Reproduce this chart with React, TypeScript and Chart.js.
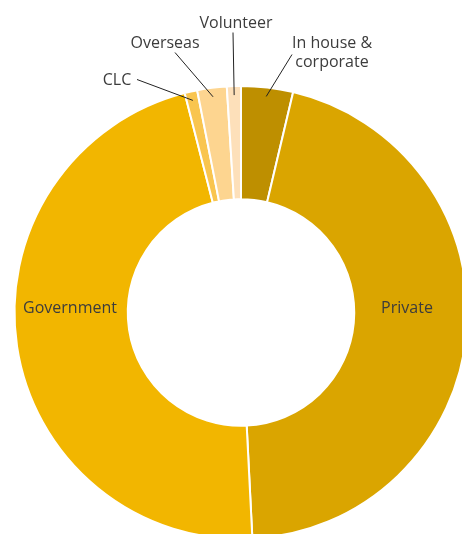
import React, { useEffect, useRef } from "react";
import { Chart, registerables } from "chart.js";

Chart.register(...registerables);

const categories = ["In house & corporate", "Private", "Government", "CLC", "Overseas", "Volunteer"];
const shares = [3.7, 45.5, 46.8, 0.9, 2.1, 1.0];
const colors = ["#BE8F00", "#DAA500", "#F2B600", "#F9C54F", "#FDD590", "#FDE0BA"];
// label text lines
const labelLines = [["In house &", "corporate"], ["Private"], ["Government"], ["CLC"], ["Overseas"], ["Volunteer"]];
// label placement: "inside" or "outside" with text anchor offsets from chart centre
const labelModes = ["outside", "inside", "inside", "outside", "outside", "outside"];
const labelOffsets: [number, number][] = [
  [91, -260],
  [166, -4],
  [-171, -4],
  [-124, -232],
  [-76, -269],
  [-5, -289],
];
const lineEnds: [number, number][] = [
  [51, -258],
  [0, 0],
  [0, 0],
  [-104, -233],
  [-66, -260],
  [-8, -280],
];

const labelPlugin = {
  id: "doughnutLabels",
  afterDatasetsDraw(chart: any) {
    const ctx = chart.ctx;
    const meta = chart.getDatasetMeta(0);
    ctx.save();
    ctx.font = "16px 'Open Sans', sans-serif";
    ctx.fillStyle = "#3c3c3c";
    ctx.strokeStyle = "#222222";
    ctx.lineWidth = 1;
    ctx.textAlign = "center";
    ctx.textBaseline = "middle";
    meta.data.forEach((arc: any, i: number) => {
      const { x, y, startAngle, endAngle, outerRadius } = arc.getProps(
        ["x", "y", "startAngle", "endAngle", "outerRadius"],
        true
      );
      const mid = (startAngle + endAngle) / 2;
      const [ox, oy] = labelOffsets[i];
      if (labelModes[i] === "outside") {
        const r = outerRadius - 9;
        const sx = x + Math.cos(mid) * r;
        const sy = y + Math.sin(mid) * r;
        const [ex, ey] = lineEnds[i];
        ctx.beginPath();
        ctx.moveTo(sx, sy);
        ctx.lineTo(x + ex, y + ey);
        ctx.stroke();
      }
      const lines = labelLines[i];
      const lh = 19;
      lines.forEach((t, k) => {
        ctx.fillText(t, x + ox, y + oy + (k - (lines.length - 1) / 2) * lh);
      });
    });
    ctx.restore();
  },
};

export default function App() {
  const ref = useRef<HTMLCanvasElement>(null);
  useEffect(() => {
    if (!ref.current) return;
    const chart = new Chart(ref.current, {
      type: "doughnut",
      data: {
        labels: categories,
        datasets: [
          {
            data: shares,
            backgroundColor: colors,
            borderColor: "#ffffff",
            borderWidth: 2,
          },
        ],
      },
      options: {
        responsive: false,
        animation: false,
        devicePixelRatio: 1,
        cutout: "50%",
        layout: { padding: { left: 13, top: 85, right: 13, bottom: 20 } },
        plugins: {
          legend: { display: false },
          tooltip: { enabled: false },
        },
      },
      plugins: [labelPlugin],
    } as any);
    return () => chart.destroy();
  }, []);
  return (
    <div
      style={{
        position: "fixed",
        left: 0,
        top: 0,
        width: 462,
        height: 534,
        overflow: "hidden",
        background: "#ffffff",
      }}
    >
      <canvas ref={ref} width={482} height={560} style={{ width: 482, height: 560, display: "block" }} />
    </div>
  );
}
